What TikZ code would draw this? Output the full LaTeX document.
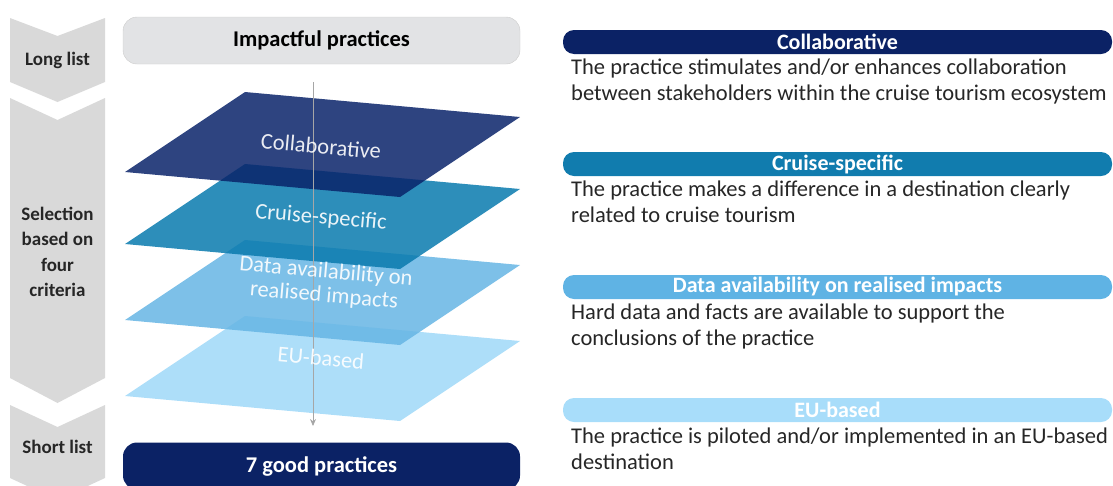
\documentclass[tikz,border=0pt]{standalone}
\usepackage{fontspec}
\setmainfont{Carlito}
\usetikzlibrary{arrows.meta}
\definecolor{chevgray}{HTML}{D9D9D9}
\definecolor{boxgray}{HTML}{E2E3E5}
\definecolor{navy}{HTML}{0B2265}
\definecolor{barB}{HTML}{117CAE}
\definecolor{barC}{HTML}{5FB3E4}
\definecolor{barD}{HTML}{A8DDFA}
\definecolor{pA}{RGB}{9,35,106}
\definecolor{pB}{RGB}{8,122,174}
\definecolor{pC}{RGB}{102,181,228}
\definecolor{pD}{RGB}{159,216,248}
\definecolor{txt}{HTML}{262626}
\tikzset{
  chev/.style={fill=chevgray},
  chevtext/.style={font=\fontsize{19}{25.3}\selectfont\bfseries, text=txt, align=center},
  topbox/.style={rounded corners=14pt, minimum width=397pt, minimum height=47pt, inner sep=0pt, font=\fontsize{22.5}{26}\selectfont\bfseries},
  plane/.style={opacity=0.85},
  planetext/.style={font=\fontsize{22.5}{24}\selectfont, text=white, text opacity=0.9, align=center, rotate=-5, inner sep=0pt},
  hdr/.style={rounded corners=11pt, minimum width=549pt, minimum height=24pt, inner sep=0pt, text=white, font=\fontsize{22}{24}\selectfont\bfseries},
  body/.style={anchor=north west, inner sep=0pt, align=left, text=txt, font=\fontsize{22.5}{26}\selectfont},
}
\begin{document}
\begin{tikzpicture}[x=1pt,y=-1pt]
\useasboundingbox (0,0) rectangle (1113,485);
\begin{scope}
\clip (0,0) rectangle (1113,485);
% chevrons
\fill[chev] (10,18) -- (57.5,36) -- (105,18) -- (105,82) -- (57.5,102) -- (10,82) -- cycle;
\fill[chev] (10,98) -- (57.5,120) -- (105,98) -- (105,378) -- (57.5,403) -- (10,378) -- cycle;
\fill[chev] (10,405) -- (57.5,427) -- (105,405) -- (105,478) -- (57.5,500) -- (10,478) -- cycle;
\node[chevtext] (ll) at (57.5,60) {Long list};
\node[chevtext] (sel) at (57.5,252) {Selection\\based on\\four\\criteria};
\node[chevtext] (sl) at (57.5,447) {Short list};
% top and bottom boxes
\node[topbox, fill=boxgray, draw=gray!40] (imp) at (321.5,40.5) {Impactful practices};
\node[topbox, fill=navy, text=white] (good) at (321.5,466) {7 good practices};
% planes
\fill[plane, pD] (125,396) -- (245,316) -- (520,341) -- (400,421) -- cycle;
\fill[plane, pC] (125,320) -- (245,240) -- (520,265) -- (400,345) -- cycle;
\fill[plane, pB] (125,244) -- (245,164) -- (520,189) -- (400,269) -- cycle;
\fill[plane, pA] (125,172) -- (245,92) -- (520,117) -- (400,197) -- cycle;
% flow line
\coordinate (fs) at (313,82);
\coordinate (fe) at (313,426);
\draw[gray!70, line width=0.8pt, -{Stealth[length=7pt,width=6pt]}] (fs) -- (fe);
\node[planetext] (t1) at (321,146) {Collaborative};
\node[planetext] (t2) at (321,218) {Cruise-specific};
\node[planetext] (t3) at (325,284) {Data availability on\\realised impacts};
\node[planetext] (t4) at (321,358) {EU-based};
% right column
\node[hdr, fill=navy] (h1) at (837.5,42) {Collaborative};
\node[body] (b1) at (571,58.5) {The practice stimulates and/or enhances collaboration\\between stakeholders within the cruise tourism ecosystem};
\node[hdr, fill=barB] (h2) at (837.5,164) {Cruise-specific};
\node[body] (b2) at (571,180.5) {The practice makes a difference in a destination clearly\\related to cruise tourism};
\node[hdr, fill=barC] (h3) at (837.5,287) {Data availability on realised impacts};
\node[body] (b3) at (571,303.5) {Hard data and facts are available to support the\\conclusions of the practice};
\node[hdr, fill=barD] (h4) at (837.5,410) {EU-based};
\node[body] (b4) at (571,427.5) {The practice is piloted and/or implemented in an EU-based\\destination};
\end{scope}
\end{tikzpicture}
\end{document}
